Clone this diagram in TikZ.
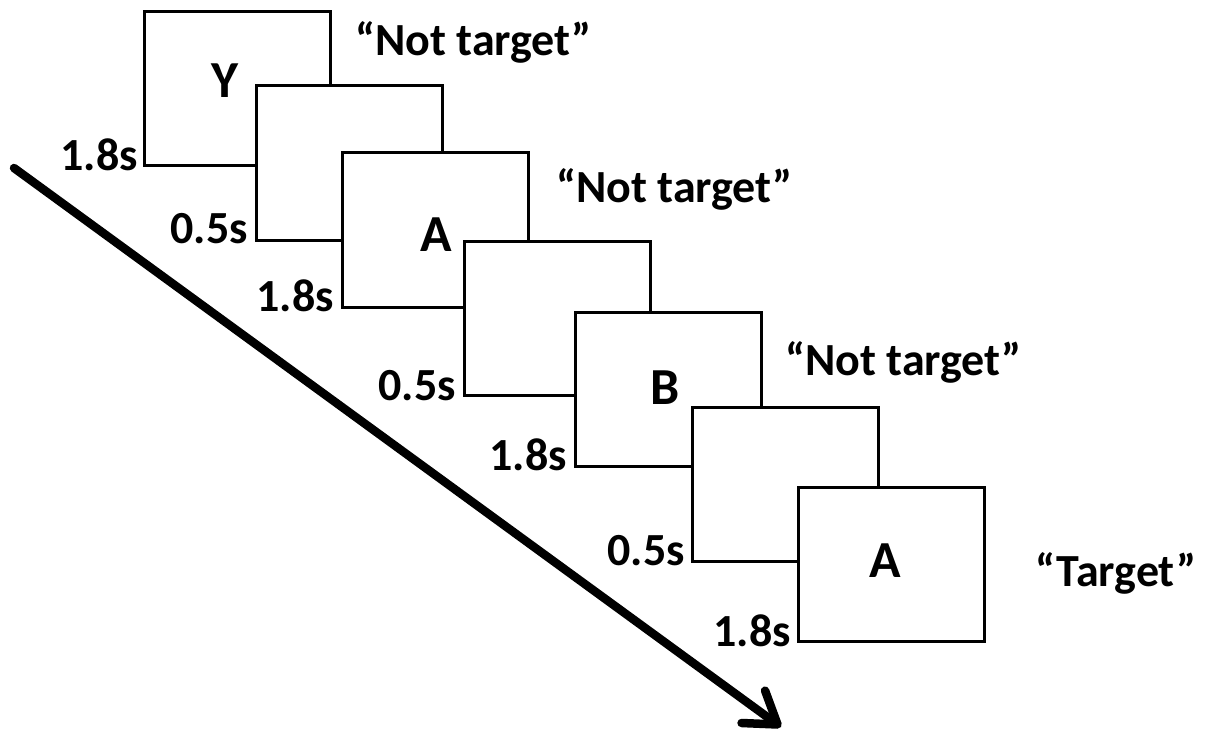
\documentclass[tikz,border=0pt]{standalone}
\usepackage{fontspec}
\setmainfont{Carlito}
\usetikzlibrary{arrows.meta}
\tikzset{
  frame/.style={draw=black, line width=3pt, fill=white, minimum width=186pt, minimum height=154pt, inner sep=0pt},
  letter/.style={inner sep=0pt, font=\fontsize{52}{52}\selectfont\bfseries},
  resp/.style={inner sep=0pt, anchor=base west, font=\fontsize{46}{46}\selectfont\bfseries},
  dur/.style={inner sep=0pt, anchor=base east, font=\fontsize{46}{46}\selectfont\bfseries},
  timearrow/.style={line width=8.5pt, line cap=round, -{Straight Barb[length=30pt,width=40pt,line cap=round,line join=round]}}
}
\begin{document}
\begin{tikzpicture}[x=1pt,y=-1pt]
\useasboundingbox (0,0) rectangle (1220,738);
\fill[white] (0,0) rectangle (1220,738);
% arrow
\coordinate (as) at (14,168);
\coordinate (ae) at (781,727);
\draw[timearrow] (as) -- (ae);
% boxes
\node[frame] (b1) at (237.5,88.5) {};
\node[frame] (b2) at (349,163) {};
\node[frame] (b3) at (435.5,230) {};
\node[frame] (b4) at (557,318.5) {};
\node[frame] (b5) at (668,389) {};
\node[frame] (b6) at (785.5,484) {};
\node[frame] (b7) at (891,564) {};
% letters
\node[letter] (l1) at (225,81) {Y};
\node[letter] (l3) at (436,235) {A};
\node[letter] (l5) at (665,388) {B};
\node[letter] (l7) at (885,561) {A};
% durations
\node[dur] (d1) at (138,171) {1.8s};
\node[dur] (d2) at (248,243) {0.5s};
\node[dur] (d3) at (334,311) {1.8s};
\node[dur] (d4) at (456,400) {0.5s};
\node[dur] (d5) at (567,470) {1.8s};
\node[dur] (d6) at (685,565) {0.5s};
\node[dur] (d7) at (791,646) {1.8s};
% responses
\node[resp] (r1) at (355,56) {“Not target”};
\node[resp] (r2) at (556,203) {“Not target”};
\node[resp] (r3) at (785,375) {“Not target”};
\node[resp] (r4) at (1035,586) {“Target”};
\end{tikzpicture}
\end{document}
